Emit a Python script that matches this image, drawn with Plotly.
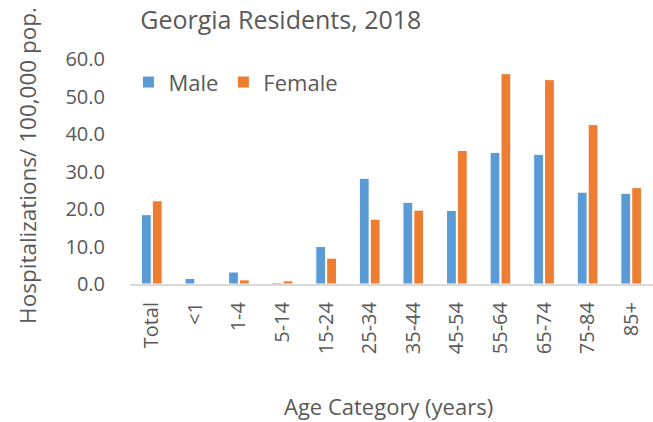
import plotly.graph_objects as go

categories = ["Total", "<1", "1-4", "5-14", "15-24", "25-34", "35-44", "45-54", "55-64", "65-74", "75-84", "85+"]
male = [18.5, 1.5, 3.2, 0.4, 10.0, 28.2, 21.8, 19.6, 35.1, 34.6, 24.5, 24.2]
female = [22.2, 0.0, 1.1, 0.85, 6.9, 17.3, 19.7, 35.6, 56.1, 54.5, 42.5, 25.7]
y_ticks = [0, 10, 20, 30, 40, 50, 60]

FONT = "Open Sans"
GRAY = "#595959"

fig = go.Figure()
fig.add_trace(go.Bar(name="Male", x=categories, y=male, marker=dict(color="#5B9BD5", line=dict(color="white", width=1))))
fig.add_trace(go.Bar(name="Female", x=categories, y=female, marker=dict(color="#ED7D31", line=dict(color="white", width=1))))

fig.update_layout(
    width=653, height=422,
    margin=dict(l=130, r=0, t=59, b=137.5),
    paper_bgcolor="white", plot_bgcolor="white",
    font=dict(family=FONT, color=GRAY, size=20),
    barmode="group", bargap=0.5, bargroupgap=0.1,
    title=dict(text="Georgia Residents, 2018", font=dict(size=25, color=GRAY), xref="container", x=0.43,
               xanchor="center", yref="container", y=0.952, yanchor="middle"),
    legend=dict(orientation="h", x=-0.003, y=0.99, xanchor="left", yanchor="top", font=dict(size=22),
                bgcolor="rgba(0,0,0,0)", itemwidth=30),
    showlegend=True,
)
fig.update_xaxes(showgrid=False, showline=True, linecolor="#D9D9D9", linewidth=2, tickangle=-90,
                 tickfont=dict(size=20), ticklabelstandoff=8, automargin=False)
fig.update_yaxes(range=[0, 60], tickvals=y_ticks, ticktext=[f"{v:.1f}" for v in y_ticks], showgrid=False,
                 zeroline=False, showline=False, tickfont=dict(size=20), ticklabelstandoff=24, automargin=False)

fig.add_annotation(text="Hospitalizations/ 100,000 pop.", xref="paper", yref="paper", x=-0.195, y=0.525,
                   xanchor="center", yanchor="middle", textangle=-90, showarrow=False, font=dict(size=22.5, color=GRAY))
fig.add_annotation(text="Age Category (years)", xref="paper", yref="paper", x=0.495, y=-0.543,
                   xanchor="center", yanchor="middle", showarrow=False, font=dict(size=22, color=GRAY))

fig.write_html("out.html", config={"displayModeBar": False}, post_script="document.body.style.margin='0';")
